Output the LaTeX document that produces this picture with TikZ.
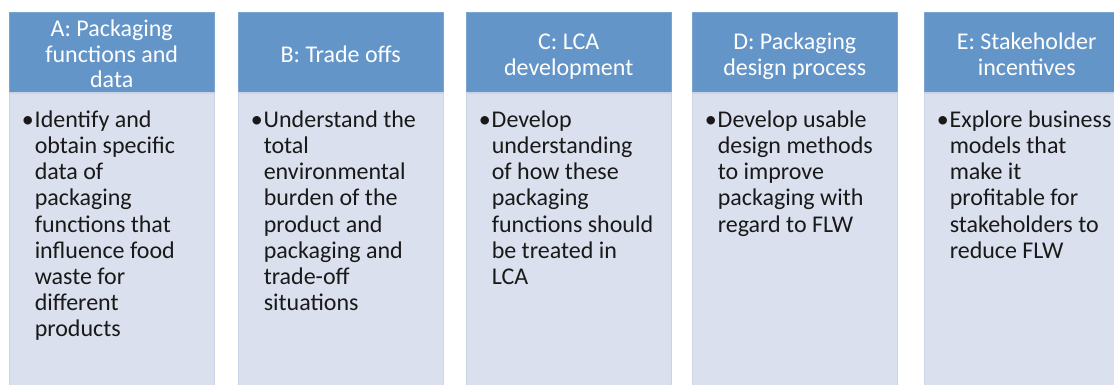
\documentclass[tikz,border=0pt]{standalone}
\usepackage{fontspec}
\setmainfont{Carlito}
\usetikzlibrary{positioning}
\definecolor{headblue}{RGB}{99,149,201}
\definecolor{bodygrey}{RGB}{218,224,237}
\definecolor{bodyline}{RGB}{202,212,231}
\newcommand{\headtext}[1]{\raisebox{-5pt}[\height][\depth]{\begin{tabular}{@{}c@{}}#1\end{tabular}}}
\newcommand{\bulletitem}[1]{\textbullet\hspace{1pt}\parbox[t]{185pt}{\raggedright #1}}

\begin{document}
\begin{tikzpicture}[x=1pt, y=-1pt,
	header/.style={rectangle, fill=headblue, draw=headblue!85!white, anchor=north west, minimum width=205pt, minimum height=80pt, inner sep=0pt, text=white, font=\fontsize{24}{25.5}\selectfont},
	panel/.style={rectangle, fill=bodygrey, draw=bodyline, line width=1.2pt, minimum width=205pt, minimum height=320pt, inner sep=0pt},
	item/.style={anchor=north west, inner sep=0pt, text=black!90, font=\fontsize{24}{26.2}\selectfont}]
	\useasboundingbox (0, 0) rectangle (1114, 385);
	\clip (0, 0) rectangle (1114, 385);

	\node[header] (headA) at (9, 12) {\headtext{A: Packaging\\functions and\\data}};
	\node[header] (headB) at (238, 12) {\headtext{B: Trade offs}};
	\node[header] (headC) at (466, 12) {\headtext{C: LCA\\development}};
	\node[header] (headD) at (692, 12) {\headtext{D: Packaging\\design process}};
	\node[header] (headE) at (924, 12) {\headtext{E: Stakeholder\\incentives}};

	\node[panel, below=0pt of headA] (bodyA) {};
	\node[panel, below=0pt of headB] (bodyB) {};
	\node[panel, below=0pt of headC] (bodyC) {};
	\node[panel, below=0pt of headD] (bodyD) {};
	\node[panel, below=0pt of headE] (bodyE) {};

	\node[item] (textA) at ([shift={(13pt,-18pt)}]bodyA.north west) {\bulletitem{Identify and\\obtain specific\\data of\\packaging\\functions that\\influence food\\waste for\\different\\products}};
	\node[item] (textB) at ([shift={(13pt,-18pt)}]bodyB.north west) {\bulletitem{Understand the\\total\\environmental\\burden of the\\product and\\packaging and\\trade-off\\situations}};
	\node[item] (textC) at ([shift={(13pt,-18pt)}]bodyC.north west) {\bulletitem{Develop\\understanding\\of how these\\packaging\\functions should\\be treated in\\LCA}};
	\node[item] (textD) at ([shift={(13pt,-18pt)}]bodyD.north west) {\bulletitem{Develop usable\\design methods\\to improve\\packaging with\\regard to FLW}};
	\node[item] (textE) at ([shift={(13pt,-18pt)}]bodyE.north west) {\bulletitem{Explore business\\models that\\make it\\profitable for\\stakeholders to\\reduce FLW}};
\end{tikzpicture}
\end{document}
